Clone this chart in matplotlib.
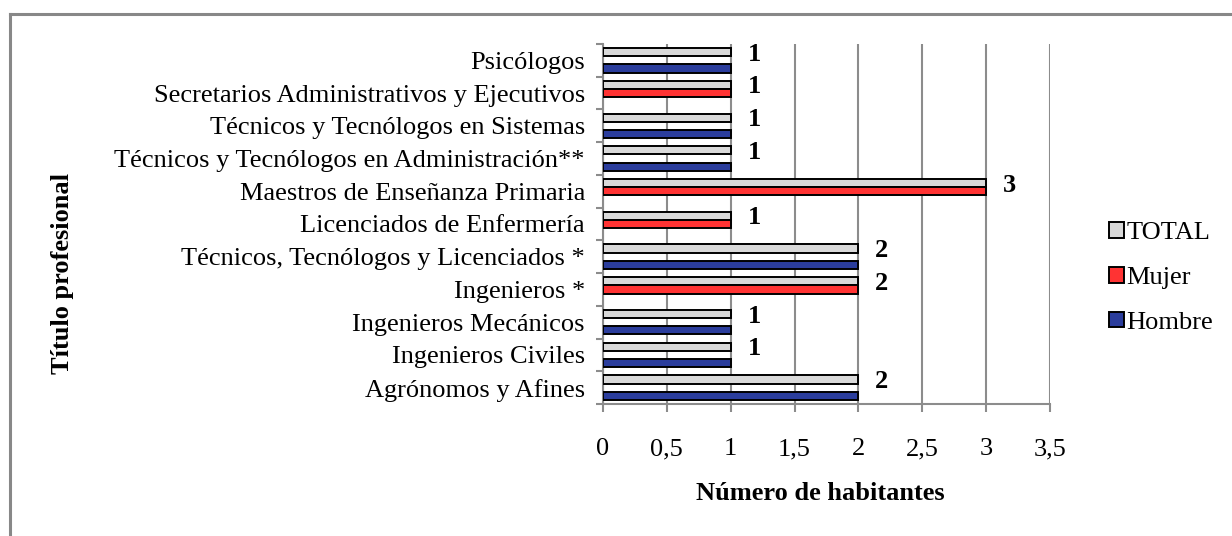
import numpy as np
import matplotlib
matplotlib.use("Agg")
import matplotlib.pyplot as plt
from matplotlib.lines import Line2D
from matplotlib.patches import Patch

# -----------------------------
# Data (bottom to top)
# -----------------------------
categorias = [
    "Agrónomos y Afines",
    "Ingenieros Civiles",
    "Ingenieros Mecánicos",
    "Ingenieros *",
    "Técnicos, Tecnólogos y Licenciados *",
    "Licenciados de Enfermería",
    "Maestros de Enseñanza Primaria",
    "Técnicos y Tecnólogos en Administración**",
    "Técnicos y Tecnólogos en Sistemas",
    "Secretarios Administrativos y Ejecutivos",
    "Psicólogos",
]
hombre = [2, 1, 1, 0, 2, 0, 0, 1, 1, 0, 1]
mujer = [0, 0, 0, 2, 0, 1, 3, 0, 0, 1, 0]
total = [2, 1, 1, 2, 2, 1, 3, 1, 1, 1, 1]

x_ticks = [0, 0.5, 1, 1.5, 2, 2.5, 3, 3.5]
x_tick_labels = ["0", "0,5", "1", "1,5", "2", "2,5", "3", "3,5"]

# -----------------------------
# Style
# -----------------------------
plt.rcParams['font.family'] = ['Liberation Serif', 'DejaVu Serif']
FS = 19
GRID = "#8c8c8c"
colores = {"TOTAL": "#d9d9d9", "Mujer": "#ff3333", "Hombre": "#2b3d9c"}

fig = plt.figure(figsize=(12.32, 5.36), dpi=100)
ax = fig.add_axes([603 / 1232, 1 - 404 / 536, (1050 - 603) / 1232, (404 - 44) / 536])

y = np.arange(len(categorias))
h = 0.25
series = [("TOTAL", total, h), ("Mujer", mujer, 0.0), ("Hombre", hombre, -h)]
for nombre, vals, off in series:
    vals = np.array(vals, dtype=float)
    m = vals > 0
    ax.barh(y[m] + off, vals[m], height=h, color=colores[nombre],
            edgecolor="black", linewidth=1.4, zorder=3)

# value labels next to TOTAL bars
for yi, t in zip(y, total):
    ax.annotate(str(t), (t, yi + h), xytext=(12, -1.5), textcoords="offset points",
                ha="left", va="center", fontsize=FS, fontweight="bold")

ax.set_xlim(0, 3.5)
ax.set_ylim(-0.5, len(categorias) - 0.5)
ax.set_xticks(x_ticks)
ax.set_xticklabels(x_tick_labels, fontsize=FS)
ax.set_yticks(y)
ax.set_yticklabels(categorias, fontsize=FS)
ax.set_yticks(np.arange(len(categorias) + 1) - 0.5, minor=True)
ax.tick_params(axis="y", which="major", length=0, pad=13)
ax.tick_params(axis="y", which="minor", length=5, width=1.5, color=GRID, direction="out")
ax.tick_params(axis="x", length=6, width=1.5, color=GRID, direction="out", pad=18.5)

ax.grid(axis="x", color=GRID, linewidth=1.5, zorder=0)
for s in ["top", "right"]:
    ax.spines[s].set_visible(False)
for s in ["left", "bottom"]:
    ax.spines[s].set_color(GRID)
    ax.spines[s].set_linewidth(1.5)

fig.text(820 / 1232, 1 - 494 / 536, "Número de habitantes", ha="center", va="center",
         fontsize=FS, fontweight="bold")
fig.text(62 / 1232, 1 - 274 / 536, "Título profesional", ha="center", va="center",
         rotation=90, fontsize=FS, fontweight="bold")

# legend
handles = [Patch(facecolor=colores[n], edgecolor="black", linewidth=1.4) for n in ["TOTAL", "Mujer", "Hombre"]]
fig.legend(handles, ["TOTAL", "Mujer", "Hombre"], loc="center left",
           bbox_to_anchor=(1109 / 1232, 1 - 278 / 536), frameon=False, fontsize=FS,
           handlelength=0.55, handleheight=0.55, handletextpad=0.12, labelspacing=0.85,
           borderpad=0, borderaxespad=0)

# outer frame (left and top edges visible)
fig.add_artist(Line2D([10 / 1232, 10 / 1232], [0, 1 - 14 / 536], color="#888888", linewidth=2.2,
                      transform=fig.transFigure))
fig.add_artist(Line2D([10 / 1232, 1], [1 - 14 / 536, 1 - 14 / 536], color="#888888", linewidth=2.2,
                      transform=fig.transFigure))

fig.savefig("out.png", dpi=100)
